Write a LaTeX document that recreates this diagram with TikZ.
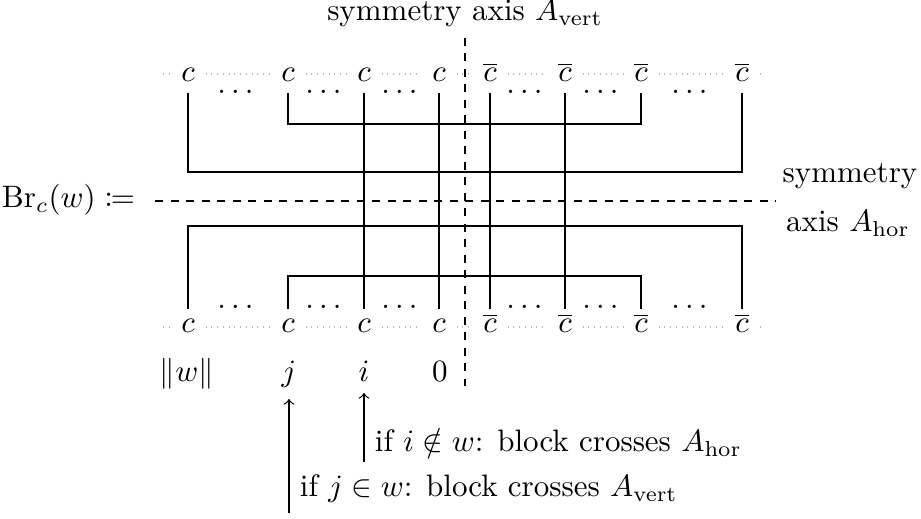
\documentclass[tikz,border=0pt]{standalone}
\usepackage{amsmath}
\usepackage{mathtools}
\begin{document}
\begin{tikzpicture}[x=0.3226pt,y=-0.3226pt,
  cn/.style={anchor=base},
  dotsn/.style={anchor=base},
  lab/.style={anchor=base},
  note/.style={anchor=base west, inner ysep=1pt},
  axisline/.style={dash pattern=on 2.6pt off 2.4pt, thin},
  guide/.style={gray!55, line width=0.35pt, dash pattern=on 0.35pt off 1.5pt},
  blk/.style={thin},
  arr/.style={->, thin}]
\useasboundingbox (0,0) rectangle (921,519);
% top row
\node[cn] (t1) at (188,82) {$c$};
\node[cn] (t2) at (288,82) {$c$};
\node[cn] (t3) at (364,82) {$c$};
\node[cn] (t4) at (439,82) {$c$};
\node[cn] (t5) at (490,82) {$\overline{c}$};
\node[cn] (t6) at (565,82) {$\overline{c}$};
\node[cn] (t7) at (641,82) {$\overline{c}$};
\node[cn] (t8) at (742,82) {$\overline{c}$};
% bottom row
\node[cn] (b1) at (188,333) {$c$};
\node[cn] (b2) at (288,333) {$c$};
\node[cn] (b3) at (364,333) {$c$};
\node[cn] (b4) at (439,333) {$c$};
\node[cn] (b5) at (490,333) {$\overline{c}$};
\node[cn] (b6) at (565,333) {$\overline{c}$};
\node[cn] (b7) at (641,333) {$\overline{c}$};
\node[cn] (b8) at (742,333) {$\overline{c}$};
% dots
\foreach \x/\n in {238/1,326/2,402/3,527/4,603/5,692/6}{
  \node[dotsn] (td\n) at (\x,94) {$\dots$};
  \node[dotsn] (bd\n) at (\x,309) {$\dots$};
}
% dotted guide lines
\coordinate (tl) at (163,74);
\coordinate (tr) at (763,74);
\coordinate (bl) at (163,327);
\coordinate (br) at (763,327);
\draw[guide] (tl) -- (t1.west |- tl);
\draw[guide] (t8.east |- tl) -- (tr);
\draw[guide] (bl) -- (b1.west |- bl);
\draw[guide] (b8.east |- bl) -- (br);
\foreach \a/\b in {1/2,2/3,3/4,4/5,5/6,6/7,7/8}{
  \draw[guide] (t\a.east |- tl) -- (t\b.west |- tl);
  \draw[guide] (b\a.east |- bl) -- (b\b.west |- bl);
}
% blocks
\coordinate (h1) at (0,172);
\coordinate (h2) at (0,124);
\coordinate (h3) at (0,226);
\coordinate (h4) at (0,276);
\draw[blk] (t1.south) -- (t1.south |- h1) -- (t8.south |- h1) -- (t8.south);
\draw[blk] (t2.south) -- (t2.south |- h2) -- (t7.south |- h2) -- (t7.south);
\draw[blk] (t3.south) -- (b3.north);
\draw[blk] (t4.south) -- (b4.north);
\draw[blk] (t5.south) -- (b5.north |- b1.north);
\draw[blk] (t6.south) -- (b6.north |- b1.north);
\draw[blk] (b1.north) -- (b1.north |- h3) -- (b8.north |- h3) -- (b8.north |- b1.north);
\draw[blk] (b2.north) -- (b2.north |- h4) -- (b7.north |- h4) -- (b7.north |- b1.north);
% axes
\node[lab, inner sep=0pt] (vt) at (465,21) {symmetry axis $A_{\text{vert}}$};
\coordinate (ve) at (465,386);
\draw[axisline] ([yshift=-3.2pt]vt.south) -- (ve);
\node[anchor=east] (brc) at (146,200) {$\mathrm{Br}_c(w) \coloneqq$};
\node[lab] (s1) at (850,183) {symmetry};
\node[lab] (s2) at (848,232) {axis $A_{\text{hor}}$};
\coordinate (he) at (776,201);
\draw[axisline] ([xshift=3pt]brc.east |- he) -- (he);
% labels
\node[lab] (lw) at (187,382) {$\|w\|$};
\node[lab] (lj) at (289,382) {$j$};
\node[lab] (li) at (364,382) {$i$};
\node[lab] (l0) at (440,382) {$0$};
\coordinate (aj) at (289,513);
\coordinate (ai) at (364,462);
\draw[arr] (aj) -- (aj |- lj.south);
\draw[arr] (ai) -- (ai |- li.south);
\node[note] (ti) at (364,452) {if $i\notin w$: block crosses $A_{\text{hor}}$};
\node[note] (tj) at (289,497) {if $j\in w$: block crosses $A_{\text{vert}}$};
\end{tikzpicture}
\end{document}
